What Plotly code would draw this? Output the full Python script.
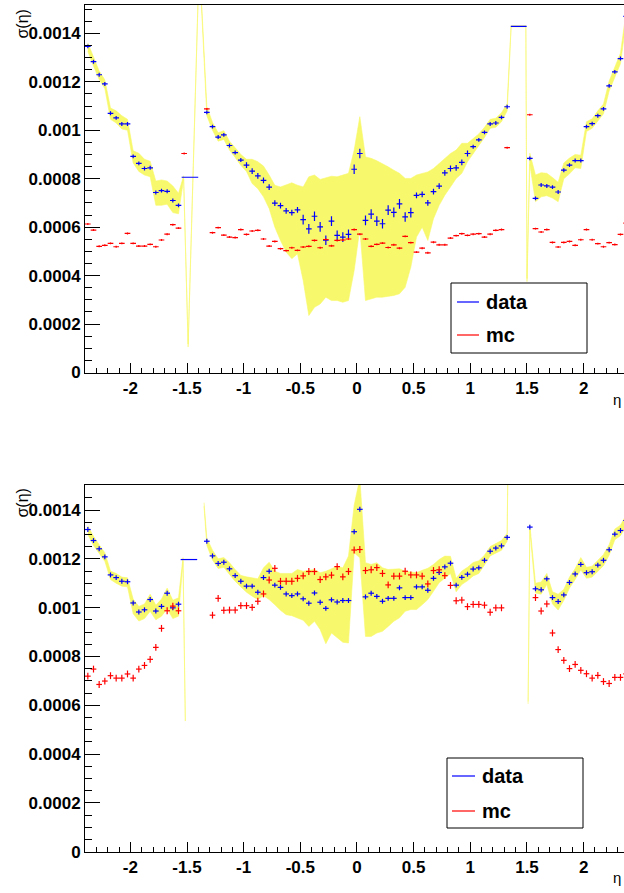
import plotly.graph_objects as go

FIG_W, FIG_H = 624, 893
N = None

# centres of the 96 eta bins (bin width 0.05) between -2.4 and 2.4
eta = [round(-2.375 + 0.05 * i, 3) for i in range(96)]
half_bin = 0.025

# ---------------- upper panel: sigma(eta) in units of 1e-3 ----------------
top_data = [
    1.346, 1.283, 1.229, 1.191, 1.070, 1.051, 1.026, 1.026,
    0.892, 0.863, 0.842, 0.845, 0.743, 0.751, 0.748, 0.710,
    0.690, N, N, N, N, 1.074, 1.015, 0.972,
    0.981, 0.937, 0.908, 0.877, 0.856, 0.831, 0.812, 0.793,
    0.765, 0.699, 0.689, 0.667, 0.660, 0.671, 0.631, 0.593,
    0.645, 0.601, 0.546, 0.625, 0.566, 0.559, 0.570, 0.839,
    0.904, 0.628, 0.654, 0.625, 0.614, 0.670, 0.661, 0.696,
    0.642, 0.660, 0.731, 0.735, 0.700, 0.747, 0.769, 0.824,
    0.842, 0.845, 0.867, 0.904, 0.932, 0.960, 0.991, 1.026,
    1.030, 1.053, 1.097, N, N, N, 0.884, 0.719,
    0.774, 0.770, 0.765, 0.745, 0.835, 0.856, 0.875, 0.875,
    1.015, 1.027, 1.060, 1.088, 1.183, 1.241, 1.296, 1.470,
]
top_data_err = [0.008] * 28 + [0.012] * 10 + [0.020] * 20 + [0.012] * 10 + [0.008] * 28

# wide crack bins of the data histogram
top_wide_eta = [-1.474, 1.427]
top_wide_half = [0.073, 0.070]
top_wide_val = [0.806, 1.429]

top_mc = [
    0.613, 0.588, 0.521, 0.525, 0.533, 0.519, 0.533, 0.574,
    0.533, 0.522, 0.522, 0.529, 0.519, 0.547, 0.571, 0.610,
    0.596, 0.904, N, N, N, 1.088, 0.577, 0.598,
    0.567, 0.559, 0.557, 0.590, 0.570, 0.584, 0.587, 0.551,
    0.522, 0.541, 0.511, 0.503, 0.515, 0.504, 0.518, 0.521,
    0.545, 0.515, 0.549, 0.523, 0.545, 0.547, 0.551, 0.590,
    0.571, 0.551, 0.521, 0.529, 0.534, 0.516, 0.527, 0.513,
    0.562, 0.536, 0.497, 0.513, 0.494, 0.538, 0.527, 0.527,
    0.555, 0.565, 0.573, 0.566, 0.571, 0.573, 0.559, 0.571,
    0.587, 0.590, 0.928, N, N, N, 1.064, 0.594,
    0.580, 0.590, 0.537, 0.518, 0.537, 0.541, 0.525, 0.548,
    0.590, 0.548, 0.532, 0.519, 0.536, 0.528, 0.570, 0.617,
]
top_mc_err = [0.004] * 96

top_band_lo = [
    1.325, 1.265, 1.210, 1.172, 1.045, 1.030, 1.005, 1.000,
    0.865, 0.830, 0.815, 0.808, 0.690, 0.690, 0.695, 0.660,
    0.655, N, N, N, N, 1.060, 1.000, 0.955,
    0.962, 0.918, 0.888, 0.855, 0.830, 0.780, 0.759, 0.725,
    0.677, 0.600, 0.545, 0.497, 0.470, 0.490, 0.380, 0.235,
    0.269, 0.283, 0.311, 0.297, 0.297, 0.290, 0.297, 0.421,
    0.594, 0.297, 0.304, 0.311, 0.311, 0.313, 0.318, 0.325,
    0.352, 0.435, 0.559, 0.600, 0.545, 0.635, 0.690, 0.732,
    0.766, 0.801, 0.822, 0.870, 0.900, 0.935, 0.970, 1.008,
    1.012, 1.035, 1.080, N, N, N, 0.860, 0.705,
    0.725, 0.730, 0.720, 0.705, 0.800, 0.820, 0.845, 0.842,
    0.995, 1.008, 1.040, 1.068, 1.162, 1.220, 1.275, 1.450,
]
top_band_hi = [
    1.360, 1.300, 1.245, 1.208, 1.092, 1.080, 1.060, 1.045,
    0.915, 0.905, 0.880, 0.872, 0.790, 0.795, 0.790, 0.770,
    0.740, N, N, N, N, 1.098, 1.032, 0.990,
    0.998, 0.955, 0.928, 0.900, 0.880, 0.880, 0.870, 0.852,
    0.815, 0.773, 0.766, 0.773, 0.783, 0.773, 0.766, 0.808,
    0.815, 0.797, 0.805, 0.810, 0.808, 0.815, 0.822, 0.918,
    1.056, 0.890, 0.884, 0.874, 0.863, 0.849, 0.835, 0.822,
    0.801, 0.801, 0.815, 0.822, 0.828, 0.842, 0.863, 0.884,
    0.904, 0.918, 0.946, 0.946, 0.965, 0.985, 1.012, 1.045,
    1.050, 1.072, 1.110, N, N, N, 0.905, 0.815,
    0.825, 0.822, 0.805, 0.785, 0.865, 0.885, 0.900, 0.897,
    1.035, 1.047, 1.080, 1.108, 1.203, 1.262, 1.318, 1.490,
]
# extra band points inside the barrel/endcap cracks
top_band_x_eta = [-1.530, -1.490, -1.392, 1.360, 1.490, 1.500]
top_band_x_lo = [0.798, 0.105, 1.700, 1.427, 1.427, 0.375]
top_band_x_hi = [0.812, 0.118, 1.715, 1.431, 1.431, 0.388]
top_band_breaks = []

# ---------------- lower panel ----------------
bot_data = [
    1.320, 1.275, 1.241, 1.208, 1.134, 1.123, 1.108, 1.106,
    1.019, 0.982, 0.991, 1.033, 0.986, 1.005, 1.059, 0.999,
    1.014, N, N, N, N, 1.272, 1.212, 1.181,
    1.186, 1.159, 1.131, 1.108, 1.088, 1.088, 1.063, 1.123,
    1.149, 1.092, 1.083, 1.056, 1.049, 1.056, 1.036, 1.018,
    1.060, 1.022, 0.997, 1.032, 1.023, 1.029, 1.029, 1.311,
    1.403, 1.044, 1.059, 1.046, 1.026, 1.038, 1.038, 1.081,
    1.041, 1.041, 1.085, 1.085, 1.071, 1.120, 1.144, 1.167,
    1.182, 1.092, 1.124, 1.137, 1.158, 1.163, 1.194, 1.231,
    1.244, 1.253, 1.288, N, N, N, 1.330, 1.077,
    1.073, 1.118, 1.041, 1.025, 1.052, 1.103, 1.138, 1.177,
    1.143, 1.147, 1.174, 1.194, 1.237, 1.301, 1.316, 1.357,
]
bot_data_err = [0.010] * 96

bot_wide_eta = [-1.483]
bot_wide_half = [0.073]
bot_wide_val = [1.197]

bot_mc = [
    0.719, 0.748, 0.685, 0.699, 0.721, 0.711, 0.711, 0.728,
    0.711, 0.748, 0.763, 0.788, 0.837, 0.915, 0.987, 1.006,
    0.987, N, N, N, N, N, 0.969, 1.038,
    0.989, 0.990, 0.990, 1.008, 1.008, 1.001, 1.026, 1.056,
    1.113, 1.161, 1.108, 1.108, 1.108, 1.120, 1.130, 1.148,
    1.148, 1.115, 1.126, 1.133, 1.168, 1.126, 1.148, 1.236,
    1.238, 1.152, 1.155, 1.164, 1.140, 1.093, 1.129, 1.129,
    1.149, 1.134, 1.134, 1.129, 1.097, 1.152, 1.155, 1.131,
    1.091, 1.028, 1.031, 1.004, 1.013, 1.013, 1.010, 0.981,
    0.999, 0.999, N, N, N, N, N, 1.041,
    0.986, 1.015, 0.896, 0.828, 0.784, 0.750, 0.767, 0.743,
    0.729, 0.711, 0.722, 0.697, 0.689, 0.714, 0.714, 0.728,
]
bot_mc_err = [0.014] * 96

bot_band_lo = [
    1.300, 1.255, 1.222, 1.190, 1.115, 1.100, 1.088, 1.085,
    0.975, 0.945, 0.955, 0.985, 0.950, 0.965, 0.995, 0.955,
    0.965, N, N, N, N, 1.255, 1.195, 1.160,
    1.165, 1.136, 1.108, 1.085, 1.063, 1.047, 1.033, 1.049,
    1.033, 1.012, 0.989, 0.971, 0.967, 0.958, 0.948, 0.923,
    0.944, 0.910, 0.852, 0.896, 0.876, 0.858, 0.855, 1.225,
    1.204, 0.882, 0.882, 0.896, 0.903, 0.923, 0.944, 0.958,
    0.985, 0.992, 0.992, 1.012, 1.033, 1.067, 1.102, 1.122,
    1.140, 1.065, 1.095, 1.110, 1.130, 1.140, 1.175, 1.212,
    1.225, 1.235, 1.272, N, N, N, 1.320, 1.060,
    1.055, 1.095, 1.015, 0.990, 1.030, 1.080, 1.115, 1.155,
    1.120, 1.125, 1.150, 1.172, 1.215, 1.278, 1.295, 1.335,
]
bot_band_hi = [
    1.335, 1.292, 1.258, 1.225, 1.150, 1.140, 1.125, 1.122,
    1.035, 1.005, 1.015, 1.055, 1.010, 1.035, 1.080, 1.030,
    1.040, N, N, N, N, 1.285, 1.235, 1.200,
    1.205, 1.184, 1.156, 1.132, 1.126, 1.123, 1.118, 1.163,
    1.186, 1.149, 1.140, 1.140, 1.140, 1.156, 1.149, 1.153,
    1.156, 1.143, 1.149, 1.159, 1.170, 1.163, 1.211, 1.420,
    1.530, 1.184, 1.177, 1.184, 1.163, 1.156, 1.156, 1.159,
    1.149, 1.145, 1.143, 1.153, 1.161, 1.177, 1.197, 1.211,
    1.210, 1.120, 1.150, 1.165, 1.185, 1.192, 1.215, 1.250,
    1.262, 1.275, 1.305, N, N, N, 1.340, 1.100,
    1.105, 1.140, 1.065, 1.055, 1.075, 1.125, 1.160, 1.205,
    1.165, 1.170, 1.195, 1.218, 1.258, 1.322, 1.338, 1.380,
]
bot_band_x_eta = [-1.535, -1.515, -1.350, 1.332, 1.510]
bot_band_x_lo = [1.190, 0.535, 1.415, 1.580, 0.605]
bot_band_x_hi = [1.205, 0.550, 1.430, 1.600, 0.615]
bot_band_breaks = [-1.45, 1.42]

y_tick_vals = [0, 0.0002, 0.0004, 0.0006, 0.0008, 0.001, 0.0012, 0.0014]
y_tick_text = ["0", "0.0002", "0.0004", "0.0006", "0.0008", "0.001", "0.0012", "0.0014"]
x_tick_vals = [-2, -1.5, -1, -0.5, 0, 0.5, 1, 1.5, 2]
x_tick_text = ["-2", "-1.5", "-1", "-0.5", "0", "0.5", "1", "1.5", "2"]

SCALE = 1e-3
BLUE, RED = "#0000ff", "#ff0000"
BAND = "#f8f86c"
FONT = "Liberation Sans, Arial, Helvetica, sans-serif"


def scaled(vals):
    return [None if v is None else v * SCALE for v in vals]


def band_polygon(lo, hi, x_eta, x_lo, x_hi, breaks):
    """Closed outlines of the systematic band, one per connected piece."""
    pts = [(e, l, h) for e, l, h in zip(eta, lo, hi) if l is not None]
    pts += list(zip(x_eta, x_lo, x_hi))
    pts.sort()
    pieces, cur = [], []
    cuts = sorted(breaks)
    for p in pts:
        while cuts and p[0] > cuts[0]:
            if cur:
                pieces.append(cur)
            cur = []
            cuts.pop(0)
        cur.append(p)
    if cur:
        pieces.append(cur)
    xs, ys = [], []
    for piece in pieces:
        if xs:
            xs.append(None)
            ys.append(None)
        xs += [p[0] for p in piece] + [p[0] for p in reversed(piece)]
        ys += [p[2] * SCALE for p in piece] + [p[1] * SCALE for p in reversed(piece)]
    return xs, ys


def hist_points(x, y, yerr, xerr, color, xa, ya):
    return go.Scatter(
        x=x, y=scaled(y), mode="markers", xaxis=xa, yaxis=ya,
        marker=dict(size=1, color=color, opacity=0),
        error_x=dict(type="data", array=xerr, width=0, thickness=1.2, color=color),
        error_y=dict(type="data", array=scaled(yerr), width=0, thickness=1.2, color=color),
        showlegend=False, hoverinfo="skip",
    )


fig = go.Figure()

panels = [
    ("x", "y", top_data, top_data_err, top_mc, top_mc_err, top_wide_eta, top_wide_half, top_wide_val,
     top_band_lo, top_band_hi, top_band_x_eta, top_band_x_lo, top_band_x_hi, top_band_breaks),
    ("x2", "y2", bot_data, bot_data_err, bot_mc, bot_mc_err, bot_wide_eta, bot_wide_half, bot_wide_val,
     bot_band_lo, bot_band_hi, bot_band_x_eta, bot_band_x_lo, bot_band_x_hi, bot_band_breaks),
]

for (xa, ya, data, derr, mc, merr, w_eta, w_half, w_val,
     b_lo, b_hi, bx_eta, bx_lo, bx_hi, b_breaks) in panels:
    bx, by = band_polygon(b_lo, b_hi, bx_eta, bx_lo, bx_hi, b_breaks)
    fig.add_trace(go.Scatter(
        x=bx, y=by, mode="lines", fill="toself", fillcolor=BAND,
        line=dict(color=BAND, width=0.6), xaxis=xa, yaxis=ya,
        showlegend=False, hoverinfo="skip",
    ))
    fig.add_trace(hist_points(eta, data, derr, [half_bin] * 96, BLUE, xa, ya))
    fig.add_trace(hist_points(w_eta, w_val, [0.0] * len(w_val), w_half, BLUE, xa, ya))
    fig.add_trace(hist_points(eta, mc, merr, [half_bin] * 96, RED, xa, ya))


# pixel -> paper helpers for frame decorations
def px(x):
    return x / FIG_W


def py(y):
    return 1 - y / FIG_H


x_left = 85
x_range = [-2.4, -2.4 + (FIG_W - x_left) / 113.33]

axis_common = dict(
    showline=True, linecolor="black", linewidth=1, showgrid=False, zeroline=False,
    ticks="inside", tickcolor="black", tickwidth=1, automargin=False,
    tickfont=dict(family=FONT, size=17, color="black", weight="bold"),
)

xcfg = dict(axis_common, domain=[px(x_left), 1], range=x_range, mirror=True,
            tickvals=x_tick_vals, ticktext=x_tick_text, ticklen=10,
            minor=dict(tick0=0, dtick=0.1, ticklen=5, ticks="inside", tickcolor="black"))
ycfg = dict(axis_common, tickvals=y_tick_vals, ticktext=y_tick_text, ticklen=15,
            minor=dict(tick0=0, dtick=0.00005, ticklen=7, ticks="inside", tickcolor="black"))

fig.update_layout(
    width=FIG_W, height=FIG_H, autosize=False,
    margin=dict(l=0, r=0, t=0, b=0, autoexpand=False),
    paper_bgcolor="white", plot_bgcolor="white",
    xaxis=dict(xcfg, anchor="y"),
    yaxis=dict(ycfg, anchor="x", domain=[py(372.5), py(5)], range=[0, 0.001517]),
    xaxis2=dict(xcfg, anchor="y2"),
    yaxis2=dict(ycfg, anchor="x2", domain=[py(851.6), py(485)], range=[0, 0.0015025]),
)

# axis titles
for top_y, eta_y in [(8, 399), (487, 877)]:
    fig.add_annotation(text="σ(η)", x=px(22), y=py(top_y), xref="paper", yref="paper",
                       xanchor="center", yanchor="top", textangle=-90, showarrow=False,
                       font=dict(family=FONT, size=16, color="black"))
    fig.add_annotation(text="η", x=px(623), y=py(eta_y), xref="paper", yref="paper",
                       xanchor="right", yanchor="middle", showarrow=False,
                       font=dict(family=FONT, size=15, color="black"))

# legend boxes
legend_boxes = [
    dict(x0=451, x1=587, y0=283, y1=353, line_x=(457, 479), text_x=484, rows=(302, 335)),
    dict(x0=447, x1=583, y0=758, y1=828, line_x=(452, 475), text_x=480, rows=(776, 811)),
]
legend_entries = [("data", BLUE), ("mc", RED)]
for box in legend_boxes:
    fig.add_shape(type="rect", xref="paper", yref="paper",
                  x0=px(box["x0"]), x1=px(box["x1"]), y0=py(box["y1"]), y1=py(box["y0"]),
                  line=dict(color="black", width=1), fillcolor="white", layer="above")
    for (label, color), row in zip(legend_entries, box["rows"]):
        fig.add_shape(type="line", xref="paper", yref="paper",
                      x0=px(box["line_x"][0]), x1=px(box["line_x"][1]), y0=py(row), y1=py(row),
                      line=dict(color=color, width=1.2), layer="above")
        fig.add_annotation(text=label, x=px(box["text_x"]), y=py(row), xref="paper", yref="paper",
                           xanchor="left", yanchor="middle", showarrow=False,
                           font=dict(family=FONT, size=20, color="black", weight="bold"))

fig.write_html("out.html")
